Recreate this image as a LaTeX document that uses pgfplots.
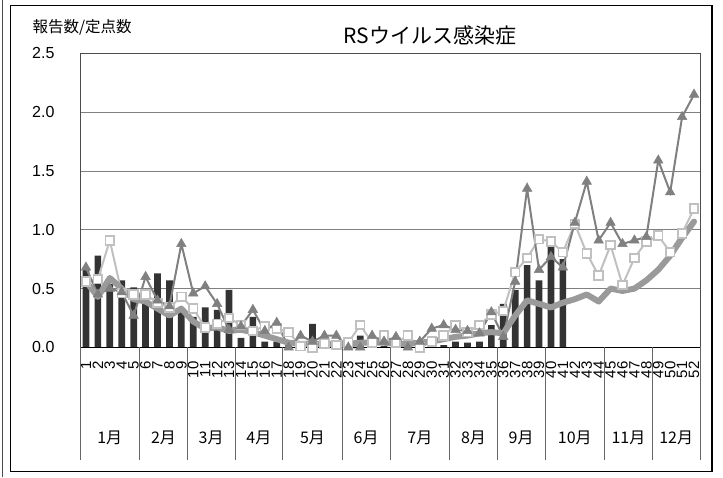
\documentclass[border=0pt]{standalone}
\usepackage{pgfplots}
\pgfplotsset{compat=1.18}
\usepackage{pgfplotstable}
\usepackage{fontspec}
\setmainfont{Liberation Sans}
\newfontfamily\jp{Noto Sans CJK JP}
\definecolor{barc}{HTML}{333333}
\definecolor{sqc}{HTML}{C0C0C0}
\definecolor{trc}{HTML}{808080}
\definecolor{avc}{HTML}{9A9A9A}
\definecolor{gridc}{HTML}{808080}

\pgfplotstableread{
w bar
1 0.66
2 0.78
3 0.54
4 0.57
5 0.51
6 0.42
7 0.63
8 0.57
9 0.33
10 0.26
11 0.34
12 0.32
13 0.49
14 0.08
15 0.26
16 0.05
17 0.05
18 0.02
19 0.01
20 0.20
21 0.01
22 0.01
23 0.01
24 0.10
25 0.01
26 0.01
27 0.01
28 0.01
29 0.01
30 0.01
31 0.02
32 0.05
33 0.04
34 0.05
35 0.19
36 0.37
37 0.49
38 0.70
39 0.57
40 0.94
41 0.75
}\bardata

\pgfplotstableread{
w s t a
1 0.56 0.68 0.56
2 0.58 0.45 0.43
3 0.91 0.50 0.59
4 0.46 0.47 0.50
5 0.45 0.27 0.41
6 0.45 0.60 0.39
7 0.38 0.40 0.33
8 0.34 0.35 0.27
9 0.43 0.88 0.33
10 0.33 0.46 0.22
11 0.17 0.52 0.16
12 0.20 0.37 0.17
13 0.25 0.15 0.14
14 0.19 0.18 0.15
15 0.14 0.32 0.13
16 0.18 0.14 0.10
17 0.16 0.21 0.07
18 0.13 0.00 0.04
19 0.01 0.10 0.03
20 0.00 0.05 0.03
21 0.03 0.10 0.03
22 0.02 0.10 0.03
23 0.04 0.00 0.03
24 0.19 0.00 0.04
25 0.04 0.10 0.04
26 0.10 0.05 0.04
27 0.04 0.09 0.03
28 0.10 0.00 0.03
29 0.00 0.05 0.04
30 0.05 0.16 0.05
31 0.10 0.19 0.07
32 0.19 0.15 0.09
33 0.13 0.14 0.10
34 0.19 0.12 0.12
35 0.28 0.30 0.13
36 0.31 0.09 0.12
37 0.64 0.56 0.27
38 0.76 1.35 0.40
39 0.92 0.66 0.37
40 0.90 0.77 0.34
41 0.81 0.68 0.38
42 1.05 1.06 0.41
43 0.80 1.41 0.45
44 0.61 0.91 0.39
45 0.87 1.06 0.50
46 0.53 0.88 0.48
47 0.76 0.91 0.50
48 0.90 0.94 0.57
49 0.95 1.59 0.66
50 0.81 1.32 0.78
51 0.97 1.96 0.93
52 1.18 2.15 1.07
}\linedata

\begin{document}
\begin{tikzpicture}
\path (0,0) rectangle (723pt,477pt);
\draw[line width=0.8pt, black!70] (2.5pt,0) -- (2.5pt,477pt);
\draw[line width=1.5pt] (10.5pt,6pt) rectangle (712pt,472pt);
\node[anchor=west, font=\jp\fontsize{15.5}{17}\selectfont] at (29pt,450pt) {報告数/定点数};
\node[font=\jp\fontsize{21}{23}\selectfont] at (430pt,442pt) {RSウイルス感染症};
\begin{axis}[
  at={(80pt,130pt)}, anchor=south west,
  scale only axis, width=620pt, height=294pt,
  xmin=0.5, xmax=52.5, ymin=0, ymax=2.5,
  ytick={0,0.5,1,1.5,2,2.5},
  xtick={1,...,52},
  major tick length=0pt,
  ymajorgrids, grid style={gridc, line width=0.8pt},
  axis line style={black!70, line width=0.8pt},
  /pgf/number format/assume math mode=true,
  yticklabel style={font=\fontsize{16}{16}\selectfont, /pgf/number format/.cd, fixed, fixed zerofill, precision=1},
  yticklabel shift=22pt,
  xticklabel style={font=\fontsize{15}{15}\selectfont, rotate=90, anchor=east, inner sep=0pt},
  xticklabel shift=14pt,
  clip=false,
]
\addplot[ybar, bar width=6.7pt, fill=barc, draw=none] table[x=w,y=bar]{\bardata};
\addplot[sqc, line width=2pt, mark=square*, mark size=4.3pt, mark options={fill=white, draw=sqc, line width=1.8pt}] table[x=w,y=s]{\linedata};
\addplot[trc, line width=2pt, mark=triangle*, mark size=5.5pt, mark options={fill=trc, draw=trc, line width=0.5pt}] table[x=w,y=t]{\linedata};
\addplot[avc, line width=6pt, line join=round, line cap=round, no marks] table[x=w,y=a]{\linedata};
\draw[black, line width=1.2pt] (axis cs:0.5,0) -- (axis cs:52.5,0);
\pgfplotsinvokeforeach{0.5,5.5,9.5,13.5,17.5,22.5,26.5,31.5,35.5,39.5,44.5,48.5,52.5}{
  \draw[black!60, line width=0.8pt] (axis cs:#1,0) -- ++(0pt,-113pt);
}
\node[font=\jp\fontsize{16}{16}\selectfont, yshift=-90pt] at (axis cs:3,0) {1月};
\node[font=\jp\fontsize{16}{16}\selectfont, yshift=-90pt] at (axis cs:7.5,0) {2月};
\node[font=\jp\fontsize{16}{16}\selectfont, yshift=-90pt] at (axis cs:11.5,0) {3月};
\node[font=\jp\fontsize{16}{16}\selectfont, yshift=-90pt] at (axis cs:15.5,0) {4月};
\node[font=\jp\fontsize{16}{16}\selectfont, yshift=-90pt] at (axis cs:20,0) {5月};
\node[font=\jp\fontsize{16}{16}\selectfont, yshift=-90pt] at (axis cs:24.5,0) {6月};
\node[font=\jp\fontsize{16}{16}\selectfont, yshift=-90pt] at (axis cs:29,0) {7月};
\node[font=\jp\fontsize{16}{16}\selectfont, yshift=-90pt] at (axis cs:33.5,0) {8月};
\node[font=\jp\fontsize{16}{16}\selectfont, yshift=-90pt] at (axis cs:37.5,0) {9月};
\node[font=\jp\fontsize{16}{16}\selectfont, yshift=-90pt] at (axis cs:42,0) {10月};
\node[font=\jp\fontsize{16}{16}\selectfont, yshift=-90pt] at (axis cs:46.5,0) {11月};
\node[font=\jp\fontsize{16}{16}\selectfont, yshift=-90pt] at (axis cs:50.5,0) {12月};
\end{axis}
\end{tikzpicture}
\end{document}
